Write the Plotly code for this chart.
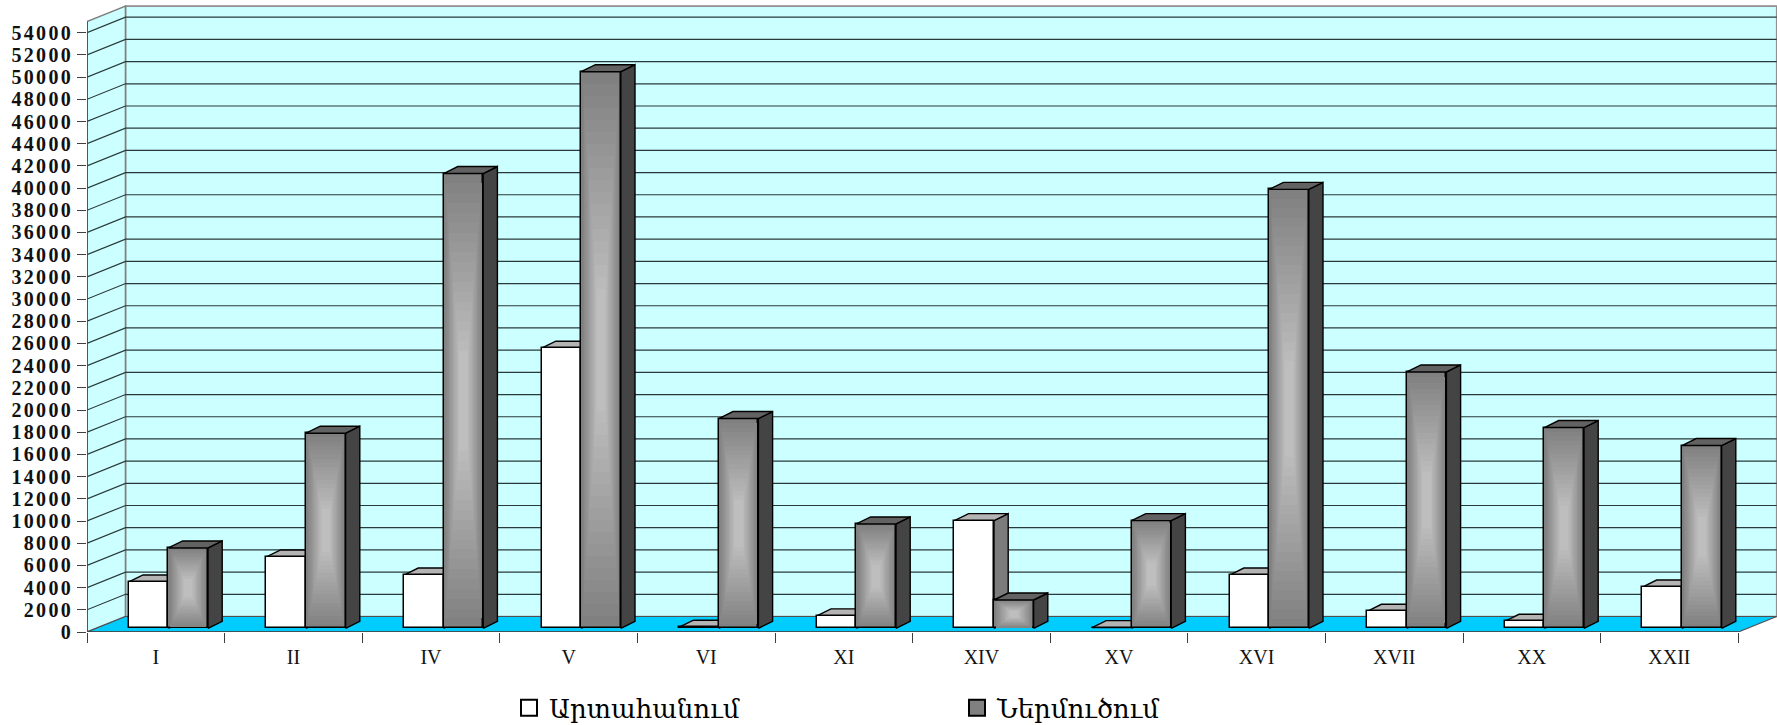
import plotly.graph_objects as go

categories = ["I", "II", "IV", "V", "VI", "XI", "XIV", "XV", "XVI", "XVII", "XX", "XXII"]
export_values = [4175, 6430, 4800, 25240, 100, 1120, 9700, 60, 4800, 1530, 630, 3720]
import_values = [7240, 17580, 40980, 50150, 18900, 9400, 2550, 9700, 39550, 23100, 18090, 16470]
y_ticks = list(range(0, 56000, 2000))
export_name = "Արտահանում"
import_name = "Ներմուծում"

W, H = 1777, 725
PX_LEFT, PX_ZERO, PX_TOP = 87.0, 631.7, 2.0
CAT_PX = 137.6
Y_PX = 599.0 / 54000
AXIS_TOP = 55000
WALL_DX = 38.5 / CAT_PX
WALL_DY = 15.5 / Y_PX
BAR_W = 39.6 / CAT_PX
BAR_DX = 14.2 / CAT_PX
BAR_DY = 7.0 / Y_PX
SHIFT_X = 12.6 / CAT_PX
SHIFT_Y = 3.7 / Y_PX
N = len(categories)
x_range = [0, (W - PX_LEFT) / CAT_PX]
y_range = [0, (PX_ZERO - PX_TOP) / Y_PX]


def polys(list_of_points):
    xs, ys = [], []
    for pts in list_of_points:
        for px, py in pts + [pts[0]]:
            xs.append(px)
            ys.append(py)
        xs.append(None)
        ys.append(None)
    return xs, ys


def fill_trace(points, fill, line_color="black", line_width=1.4, axes=("x", "y")):
    xs, ys = polys(points)
    return go.Scatter(x=xs, y=ys, mode="lines", fill="toself", fillcolor=fill,
                      line=dict(color=line_color, width=line_width), xaxis=axes[0], yaxis=axes[1],
                      showlegend=False, hoverinfo="skip")


fig = go.Figure()

# walls and floor
x_end = float(N)
fig.add_trace(fill_trace([[(WALL_DX, WALL_DY), (x_end + WALL_DX, WALL_DY),
                           (x_end + WALL_DX, AXIS_TOP + WALL_DY), (WALL_DX, AXIS_TOP + WALL_DY)]],
                         "#ccffff", "#909090", 1.6))
fig.add_trace(fill_trace([[(0, 0), (WALL_DX, WALL_DY), (WALL_DX, AXIS_TOP + WALL_DY), (0, AXIS_TOP)]],
                         "#ccffff", "#808080", 1.6))
fig.add_trace(fill_trace([[(0, 0), (x_end, 0), (x_end + WALL_DX, WALL_DY), (WALL_DX, WALL_DY)]],
                         "#00ccff", "#505050", 1.2))

# gridlines on the walls
gx, gy = [], []
for t in y_ticks[1:]:
    gx += [0, WALL_DX, x_end + WALL_DX, None]
    gy += [t, t + WALL_DY, t + WALL_DY, None]
fig.add_trace(go.Scatter(x=gx, y=gy, mode="lines", line=dict(color="#2a3a3a", width=1.2),
                         showlegend=False, hoverinfo="skip"))

# front axis lines
fig.add_trace(go.Scatter(x=[0, 0, None, 0, x_end], y=[0, AXIS_TOP, None, 0, 0], mode="lines",
                         line=dict(color="#404040", width=1.5), showlegend=False, hoverinfo="skip"))

# export bars: top and side sit below the import bars
ex_l = [i + 0.5 - BAR_W + SHIFT_X for i in range(N)]
ex_top, ex_side = [], []
for xl, v in zip(ex_l, export_values):
    xr = xl + BAR_W
    v2 = v + SHIFT_Y
    ex_top.append([(xl, v2), (xr, v2), (xr + BAR_DX, v2 + BAR_DY), (xl + BAR_DX, v2 + BAR_DY)])
    ex_side.append([(xr, SHIFT_Y), (xr + BAR_DX, SHIFT_Y + BAR_DY), (xr + BAR_DX, v2 + BAR_DY), (xr, v2)])
fig.add_trace(fill_trace(ex_side, "#7c7c7c"))
fig.add_trace(fill_trace(ex_top, "#b4b4b4"))

# front faces on the overlay axes, whose origin is the bars' foot
centers = [i + 0.5 for i in range(N)]
ex_c = [c - BAR_W / 2 for c in centers]
im_c = [c + BAR_W / 2 for c in centers]
fig.add_trace(go.Bar(x=ex_c, y=export_values, width=BAR_W, name=export_name, xaxis="x2", yaxis="y2",
                     marker=dict(color="white", line=dict(color="black", width=1.5)), hoverinfo="skip"))
fig.add_trace(go.Bar(x=im_c, y=import_values, width=BAR_W, name=import_name, xaxis="x2", yaxis="y2",
                     marker=dict(color="#808080", line=dict(color="black", width=1.5)), hoverinfo="skip"))

# concentric shading of the import faces
STEPS = 18
for s in range(1, STEPS + 1):
    f = 0.78 * s / STEPS
    shade = int(129 + (190 - 129) * s / STEPS)
    keep = 1 - f
    fig.add_trace(go.Bar(x=im_c, y=[v * keep for v in import_values],
                         base=[v * f / 2 for v in import_values],
                         width=(BAR_W - 0.012) * keep, xaxis="x2", yaxis="y2", showlegend=False,
                         marker=dict(color=f"rgb({shade},{shade},{shade})", line=dict(width=0)),
                         hoverinfo="skip"))

# import top and side
im_top, im_side = [], []
for c, v in zip(im_c, import_values):
    xl, xr = c - BAR_W / 2, c + BAR_W / 2
    im_top.append([(xl, v), (xr, v), (xr + BAR_DX, v + BAR_DY), (xl + BAR_DX, v + BAR_DY)])
    im_side.append([(xr, 0), (xr + BAR_DX, BAR_DY), (xr + BAR_DX, v + BAR_DY), (xr, v)])
fig.add_trace(fill_trace(im_side, "#444444", axes=("x2", "y2")))
fig.add_trace(fill_trace(im_top, "#626262", axes=("x2", "y2")))

fig.update_layout(
    width=W, height=H, paper_bgcolor="white", plot_bgcolor="white",
    margin=dict(l=PX_LEFT, r=0, t=PX_TOP, b=H - PX_ZERO, autoexpand=False),
    barmode="overlay", bargap=0,
    font=dict(family="Liberation Serif", color="black"),
    xaxis=dict(range=x_range, showgrid=False, zeroline=False, showline=False,
               tickmode="array", tickvals=centers, ticktext=categories, ticks="",
               ticklabelstandoff=11, tickfont=dict(family="Liberation Serif", size=20, color="#111111"),
               minor=dict(tickmode="array", tickvals=list(range(N + 1)), ticks="outside", ticklen=10,
                          tickwidth=1, tickcolor="#404040", showgrid=False)),
    yaxis=dict(range=y_range, showgrid=False, zeroline=False, showline=False,
               tickmode="array", tickvals=y_ticks, ticktext=[str(t) for t in y_ticks],
               ticks="outside", ticklen=9, tickwidth=1.3, tickcolor="#404040",
               tickfont=dict(family="Liberation Serif", size=20, color="#111111", weight="bold")),
    xaxis2=dict(range=[r - SHIFT_X for r in x_range], overlaying="x", visible=False),
    yaxis2=dict(range=[r - SHIFT_Y for r in y_range], overlaying="y", visible=False),
    legend=dict(orientation="h", x=(509 - PX_LEFT) / (W - PX_LEFT), y=-0.083, xanchor="left", yanchor="top",
                entrywidth=403, entrywidthmode="pixels", itemsizing="constant", traceorder="normal",
                font=dict(family="DejaVu Serif", size=26, color="black"), bgcolor="rgba(0,0,0,0)"),
)

post = """
document.body.style.margin='0';
document.body.style.overflow='hidden';
document.querySelectorAll('.ytick text').forEach(function(t){t.style.letterSpacing='2.3px';});
document.querySelectorAll('.legend .legendpoints path').forEach(function(p){p.setAttribute('d','M8,8H-8V-8H8Z');});
"""
fig.write_html("out.html", post_script=post, config={"displayModeBar": False})
